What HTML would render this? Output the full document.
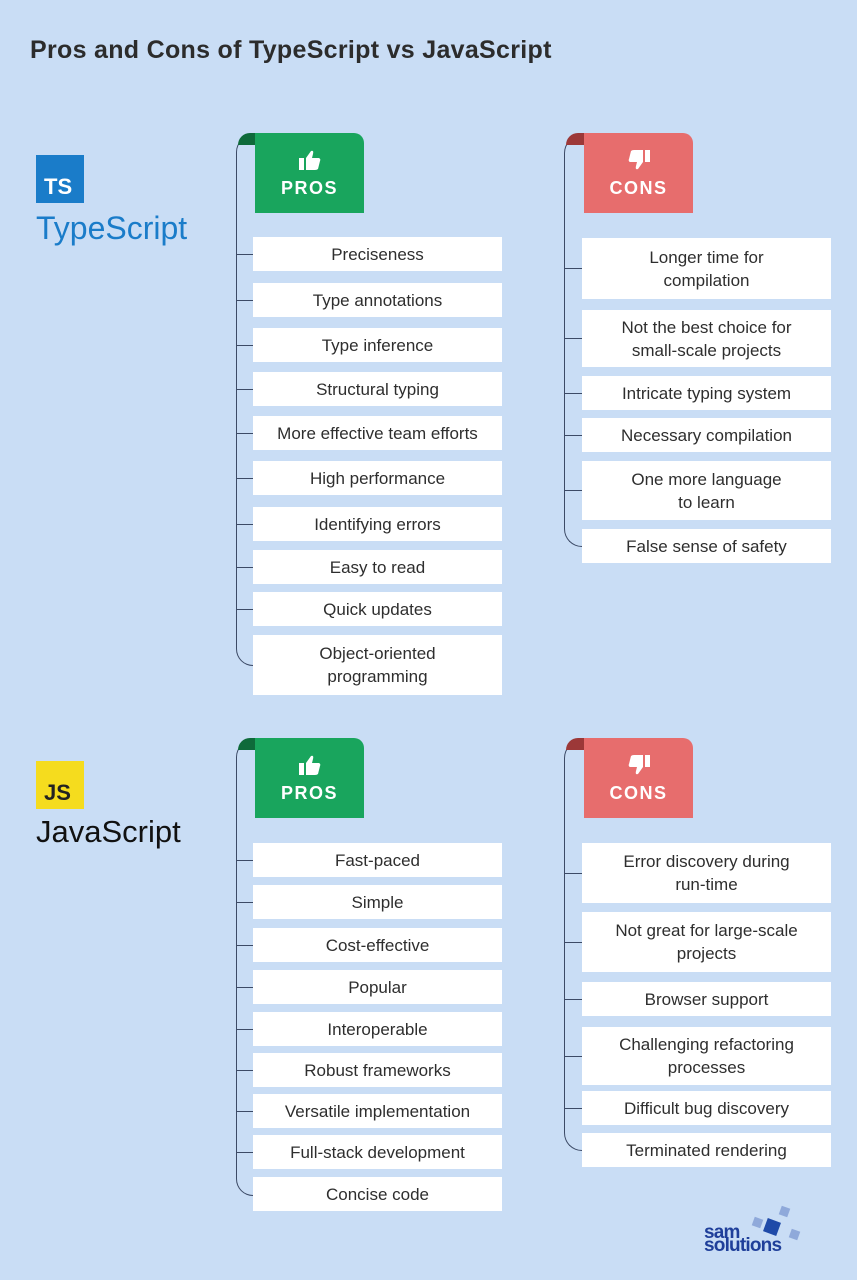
<!DOCTYPE html>
<html><head><meta charset="utf-8"><style>
*{margin:0;padding:0;box-sizing:border-box}
body{width:857px;height:1280px;background:#c9ddf5;position:relative;overflow:hidden;font-family:"Liberation Sans","DejaVu Sans",sans-serif}
.a{position:absolute}
.it{position:absolute;background:#fff;color:#2e2e2e;font-size:17px;line-height:23px;display:flex;align-items:center;justify-content:center;text-align:center}
.p{left:253px;width:249px}
.c{left:582px;width:249px}
.tk{position:absolute;height:1.3px;background:#3c4a66}
.tp{left:236px;width:17px}
.tc{left:564px;width:18px}
.ln{position:absolute;border-left:1.4px solid #3c4a66;border-bottom:1.4px solid #3c4a66;border-top:1.4px solid #3c4a66;border-top-left-radius:18px;border-bottom-left-radius:18px;border-right:none}
.hd{position:absolute;width:109px;height:80px;color:#fff;font-weight:bold;font-size:18px;letter-spacing:1.5px;text-align:center;border-top-right-radius:10px}
.hd svg{display:block;margin:17px auto 0}
.hd .tx{display:block;margin-top:8px}
.g{background:#19a55d}.r{background:#e76d6d}
.curl{position:absolute;width:20px;height:12px;border-top-left-radius:12px}
</style></head><body>
<div class="a" style="left:30px;top:36px;font-size:25px;font-weight:bold;color:#2c2c2c;letter-spacing:0.3px">Pros and Cons of TypeScript vs JavaScript</div>

<div class="a" style="left:36px;top:155px;width:48px;height:48px;background:#1a7cc9;color:#fff;font-weight:bold;font-size:22px;padding:20px 0 0 8px;line-height:24px">TS</div>
<div class="a" style="left:36px;top:210px;font-size:32px;color:#1a7cc9">TypeScript</div>
<div class="a" style="left:36px;top:761px;width:48px;height:48px;background:#f5dc1e;color:#222;font-weight:bold;font-size:22px;padding:20px 0 0 8px;line-height:24px">JS</div>
<div class="a" style="left:36px;top:814px;font-size:31px;color:#111">JavaScript</div>

<!-- TS pros -->
<div class="ln" style="left:236px;top:135px;width:17px;height:531px"></div>
<div class="curl" style="left:238px;top:133px;background:#0e6a3a"></div>
<div class="hd g" style="left:255px;top:133px"><svg width="22" height="20" viewBox="0 0 22 20"><rect x="0" y="8" width="5" height="12" fill="#fff"/><path d="M7 8 L12 1 Q15 0 14 4 L13 8 L20 8 Q22 9 21 11 L19 19 Q18 20 16 20 L7 20 Z" fill="#fff"/></svg><span class="tx">PROS</span></div>
<div class="it p" style="top:237px;height:34px">Preciseness</div><div class="tk tp" style="top:254px"></div>
<div class="it p" style="top:283px;height:34px">Type annotations</div><div class="tk tp" style="top:300px"></div>
<div class="it p" style="top:328px;height:34px">Type inference</div><div class="tk tp" style="top:345px"></div>
<div class="it p" style="top:372px;height:34px">Structural typing</div><div class="tk tp" style="top:389px"></div>
<div class="it p" style="top:416px;height:34px">More effective team efforts</div><div class="tk tp" style="top:433px"></div>
<div class="it p" style="top:461px;height:34px">High performance</div><div class="tk tp" style="top:478px"></div>
<div class="it p" style="top:507px;height:34px">Identifying errors</div><div class="tk tp" style="top:524px"></div>
<div class="it p" style="top:550px;height:34px">Easy to read</div><div class="tk tp" style="top:567px"></div>
<div class="it p" style="top:592px;height:34px">Quick updates</div><div class="tk tp" style="top:609px"></div>
<div class="it p" style="top:635px;height:60px">Object-oriented<br>programming</div>

<!-- TS cons -->
<div class="ln" style="left:564px;top:135px;width:18px;height:412px"></div>
<div class="curl" style="left:566px;top:133px;background:#9c3838"></div>
<div class="hd r" style="left:584px;top:133px"><svg width="22" height="20" viewBox="0 0 22 20" style="transform:rotate(180deg)"><rect x="0" y="8" width="5" height="12" fill="#fff"/><path d="M7 8 L12 1 Q15 0 14 4 L13 8 L20 8 Q22 9 21 11 L19 19 Q18 20 16 20 L7 20 Z" fill="#fff"/></svg><span class="tx">CONS</span></div>
<div class="it c" style="top:238px;height:61px">Longer time for<br>compilation</div><div class="tk tc" style="top:268px"></div>
<div class="it c" style="top:310px;height:57px">Not the best choice for<br>small-scale projects</div><div class="tk tc" style="top:338px"></div>
<div class="it c" style="top:376px;height:34px">Intricate typing system</div><div class="tk tc" style="top:393px"></div>
<div class="it c" style="top:418px;height:34px">Necessary compilation</div><div class="tk tc" style="top:435px"></div>
<div class="it c" style="top:461px;height:59px">One more language<br>to learn</div><div class="tk tc" style="top:490px"></div>
<div class="it c" style="top:529px;height:34px">False sense of safety</div>

<!-- JS pros -->
<div class="ln" style="left:236px;top:740px;width:17px;height:456px"></div>
<div class="curl" style="left:238px;top:738px;background:#0e6a3a"></div>
<div class="hd g" style="left:255px;top:738px"><svg width="22" height="20" viewBox="0 0 22 20"><rect x="0" y="8" width="5" height="12" fill="#fff"/><path d="M7 8 L12 1 Q15 0 14 4 L13 8 L20 8 Q22 9 21 11 L19 19 Q18 20 16 20 L7 20 Z" fill="#fff"/></svg><span class="tx">PROS</span></div>
<div class="it p" style="top:843px;height:34px">Fast-paced</div><div class="tk tp" style="top:860px"></div>
<div class="it p" style="top:885px;height:34px">Simple</div><div class="tk tp" style="top:902px"></div>
<div class="it p" style="top:928px;height:34px">Cost-effective</div><div class="tk tp" style="top:945px"></div>
<div class="it p" style="top:970px;height:34px">Popular</div><div class="tk tp" style="top:987px"></div>
<div class="it p" style="top:1012px;height:34px">Interoperable</div><div class="tk tp" style="top:1029px"></div>
<div class="it p" style="top:1053px;height:34px">Robust frameworks</div><div class="tk tp" style="top:1070px"></div>
<div class="it p" style="top:1094px;height:34px">Versatile implementation</div><div class="tk tp" style="top:1111px"></div>
<div class="it p" style="top:1135px;height:34px">Full-stack development</div><div class="tk tp" style="top:1152px"></div>
<div class="it p" style="top:1177px;height:34px">Concise code</div>

<!-- JS cons -->
<div class="ln" style="left:564px;top:740px;width:18px;height:411px"></div>
<div class="curl" style="left:566px;top:738px;background:#9c3838"></div>
<div class="hd r" style="left:584px;top:738px"><svg width="22" height="20" viewBox="0 0 22 20" style="transform:rotate(180deg)"><rect x="0" y="8" width="5" height="12" fill="#fff"/><path d="M7 8 L12 1 Q15 0 14 4 L13 8 L20 8 Q22 9 21 11 L19 19 Q18 20 16 20 L7 20 Z" fill="#fff"/></svg><span class="tx">CONS</span></div>
<div class="it c" style="top:843px;height:60px">Error discovery during<br>run-time</div><div class="tk tc" style="top:873px"></div>
<div class="it c" style="top:912px;height:60px">Not great for large-scale<br>projects</div><div class="tk tc" style="top:942px"></div>
<div class="it c" style="top:982px;height:34px">Browser support</div><div class="tk tc" style="top:999px"></div>
<div class="it c" style="top:1027px;height:58px">Challenging refactoring<br>processes</div><div class="tk tc" style="top:1056px"></div>
<div class="it c" style="top:1091px;height:34px">Difficult bug discovery</div><div class="tk tc" style="top:1108px"></div>
<div class="it c" style="top:1133px;height:34px">Terminated rendering</div>

<!-- logo -->
<div class="a" style="left:753px;top:1218px;width:9px;height:9px;background:#8fa9da;transform:rotate(20deg)"></div>
<div class="a" style="left:780px;top:1207px;width:9px;height:9px;background:#8fa9da;transform:rotate(20deg)"></div>
<div class="a" style="left:790px;top:1230px;width:9px;height:9px;background:#8fa9da;transform:rotate(20deg)"></div>
<div class="a" style="left:765px;top:1220px;width:14px;height:14px;background:#1f4aa8;transform:rotate(20deg)"></div>
<div class="a" style="left:704px;top:1226px;font-size:19px;line-height:13px;font-weight:bold;color:#1f3f9a;letter-spacing:-0.8px">sam<br>solutions</div>
</body></html>
